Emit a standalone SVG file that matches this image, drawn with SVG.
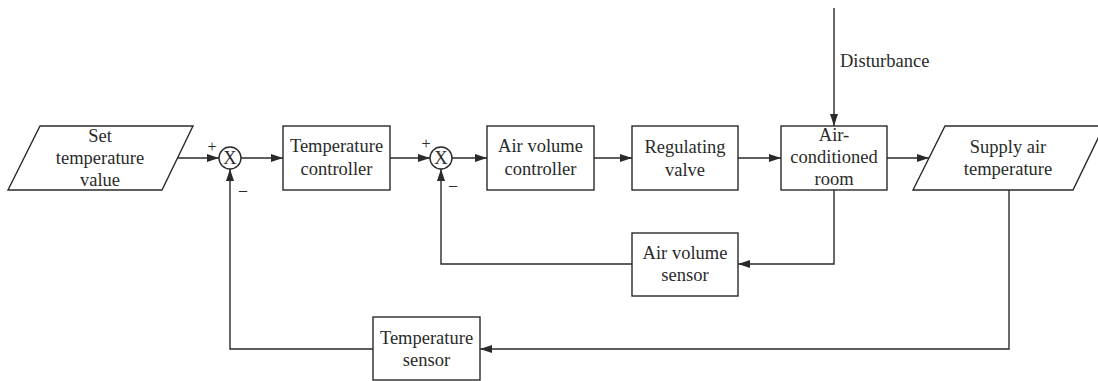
<svg xmlns="http://www.w3.org/2000/svg" width="1098" height="381" viewBox="0 0 1098 381">
<style>
.b{fill:#fff;stroke:#2a2a2a;stroke-width:1.4}
.t{font-family:"Liberation Serif","Times New Roman",serif;font-size:18.5px;fill:#2a2a2a;text-anchor:middle}
.s{font-family:"Liberation Serif","Times New Roman",serif;font-size:16px;fill:#2a2a2a;text-anchor:middle}
.c{fill:none;stroke:#2a2a2a;stroke-width:1.4}
</style>
<defs>
<marker id="a" markerUnits="userSpaceOnUse" markerWidth="13" markerHeight="9" refX="12" refY="4" orient="auto">
<path d="M0,0 L12,4 L0,8 z" fill="#2a2a2a"/>
</marker>
</defs>
<rect width="1098" height="381" fill="#fff"/>
<g id="connectors">
<path class="c" d="M178,158 H219" marker-end="url(#a)"/>
<path class="c" d="M241,158 H283" marker-end="url(#a)"/>
<path class="c" d="M390,158 H430" marker-end="url(#a)"/>
<path class="c" d="M452,158 H487" marker-end="url(#a)"/>
<path class="c" d="M594,158 H632" marker-end="url(#a)"/>
<path class="c" d="M738,158 H781" marker-end="url(#a)"/>
<path class="c" d="M887,158 H929" marker-end="url(#a)"/>
<path class="c" d="M834,8 V126" marker-end="url(#a)"/>
<path class="c" d="M834,190 V264 H738" marker-end="url(#a)"/>
<path class="c" d="M632,264 H441 V169" marker-end="url(#a)"/>
<path class="c" d="M1009,190 V349 H480" marker-end="url(#a)"/>
<path class="c" d="M373,349 H230 V169" marker-end="url(#a)"/>
<text class="t" x="840" y="67" style="text-anchor:start">Disturbance</text>
</g>
<g id="set">
<polygon class="b" points="40,126 193,126 162,190 8,190"/>
<text class="t" x="100" y="142">Set</text>
<text class="t" x="100" y="164">temperature</text>
<text class="t" x="100" y="186">value</text>
</g>
<g id="sum1">
<circle class="b" cx="230" cy="158" r="11"/>
<text class="t" x="230" y="164">X</text>
<text class="s" x="212" y="152">+</text>
<text class="s" x="243" y="195">–</text>
</g>
<g id="tc">
<rect class="b" x="283" y="126" width="107" height="64"/>
<text class="t" x="336.5" y="152">Temperature</text>
<text class="t" x="336.5" y="175">controller</text>
</g>
<g id="sum2">
<circle class="b" cx="441" cy="158" r="11"/>
<text class="t" x="441" y="164">X</text>
<text class="s" x="426" y="149">+</text>
<text class="s" x="453" y="190">–</text>
</g>
<g id="avc">
<rect class="b" x="487" y="126" width="107" height="64"/>
<text class="t" x="540.5" y="152">Air volume</text>
<text class="t" x="540.5" y="175">controller</text>
</g>
<g id="rv">
<rect class="b" x="632" y="126" width="106" height="64"/>
<text class="t" x="685" y="153">Regulating</text>
<text class="t" x="685" y="176">valve</text>
</g>
<g id="room">
<rect class="b" x="781" y="126" width="106" height="64"/>
<text class="t" x="834" y="141">Air-</text>
<text class="t" x="834" y="163">conditioned</text>
<text class="t" x="834" y="185">room</text>
</g>
<g id="supply">
<polygon class="b" points="945,126 1104,126 1073,190 913,190"/>
<text class="t" x="1008" y="153">Supply air</text>
<text class="t" x="1008" y="175">temperature</text>
</g>
<g id="avs">
<rect class="b" x="632" y="233" width="106" height="63"/>
<text class="t" x="685" y="259">Air volume</text>
<text class="t" x="685" y="281">sensor</text>
</g>
<g id="ts">
<rect class="b" x="373" y="317" width="107" height="63"/>
<text class="t" x="426.5" y="344">Temperature</text>
<text class="t" x="426.5" y="366">sensor</text>
</g>
</svg>
